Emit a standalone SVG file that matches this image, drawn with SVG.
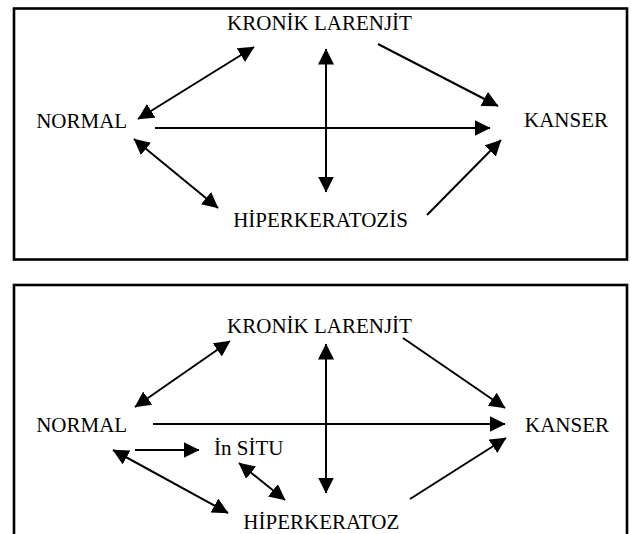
<svg xmlns="http://www.w3.org/2000/svg" width="631" height="534" viewBox="0 0 631 534">
<style>
.box{fill:none;stroke:#000;stroke-width:2.6}
.lbl{font-family:'Liberation Serif','Times New Roman','DejaVu Serif',serif;font-size:21px;fill:#000;text-anchor:middle}
.c line{stroke:#000;stroke-width:2}
.one{marker-end:url(#ah)}
.two{marker-start:url(#ah);marker-end:url(#ah)}
</style>
<defs>
<marker id="ah" markerUnits="userSpaceOnUse" markerWidth="17" markerHeight="17" refX="15.5" refY="8" orient="auto-start-reverse" viewBox="0 0 17 17">
<path d="M0,0 L16,8 L0,16 z" fill="#000"/>
</marker>
</defs>
<rect class="box" x="14" y="8.5" width="613" height="251"/>
<rect class="box" x="14" y="285" width="613" height="262"/>
<g id="top-nodes" font-family="Liberation Serif, serif">
<g id="t-kronik"><text class="lbl" x="319.5" y="30">KRONİK LARENJİT</text></g>
<g id="t-normal"><text class="lbl" x="81.7" y="128">NORMAL</text></g>
<g id="t-kanser"><text class="lbl" x="566" y="127">KANSER</text></g>
<g id="t-hiper"><text class="lbl" x="320.5" y="227">HİPERKERATOZİS</text></g>
</g>
<g id="top-connectors" class="c">
<line class="two" x1="138" y1="119" x2="254" y2="47"/>
<line class="two" x1="134" y1="139" x2="218" y2="208"/>
<line class="one" x1="155" y1="128" x2="490" y2="128"/>
<line class="two" x1="326" y1="49" x2="326" y2="192"/>
<line class="one" x1="378" y1="44" x2="498" y2="106"/>
<line class="one" x1="427" y1="215" x2="501" y2="140"/>
</g>
<g id="bottom-nodes" font-family="Liberation Serif, serif">
<g id="b-kronik"><text class="lbl" x="319.5" y="333">KRONİK LARENJİT</text></g>
<g id="b-normal"><text class="lbl" x="81.7" y="431.5">NORMAL</text></g>
<g id="b-kanser"><text class="lbl" x="567" y="431.5">KANSER</text></g>
<g id="b-insitu"><text class="lbl" x="248.7" y="455">İn SİTU</text></g>
<g id="b-hiper"><text class="lbl" x="321.3" y="528.5">HİPERKERATOZ</text></g>
</g>
<g id="bottom-connectors" class="c">
<line class="two" x1="135" y1="407" x2="230" y2="341"/>
<line class="one" x1="153" y1="424" x2="505" y2="424"/>
<line class="one" x1="135" y1="450" x2="199" y2="450"/>
<line class="two" x1="113" y1="450" x2="228" y2="513"/>
<line class="two" x1="239" y1="463" x2="285" y2="500"/>
<line class="two" x1="326" y1="344" x2="326" y2="493"/>
<line class="one" x1="403" y1="338" x2="505" y2="408"/>
<line class="one" x1="410" y1="499" x2="506" y2="438"/>
</g>
</svg>
